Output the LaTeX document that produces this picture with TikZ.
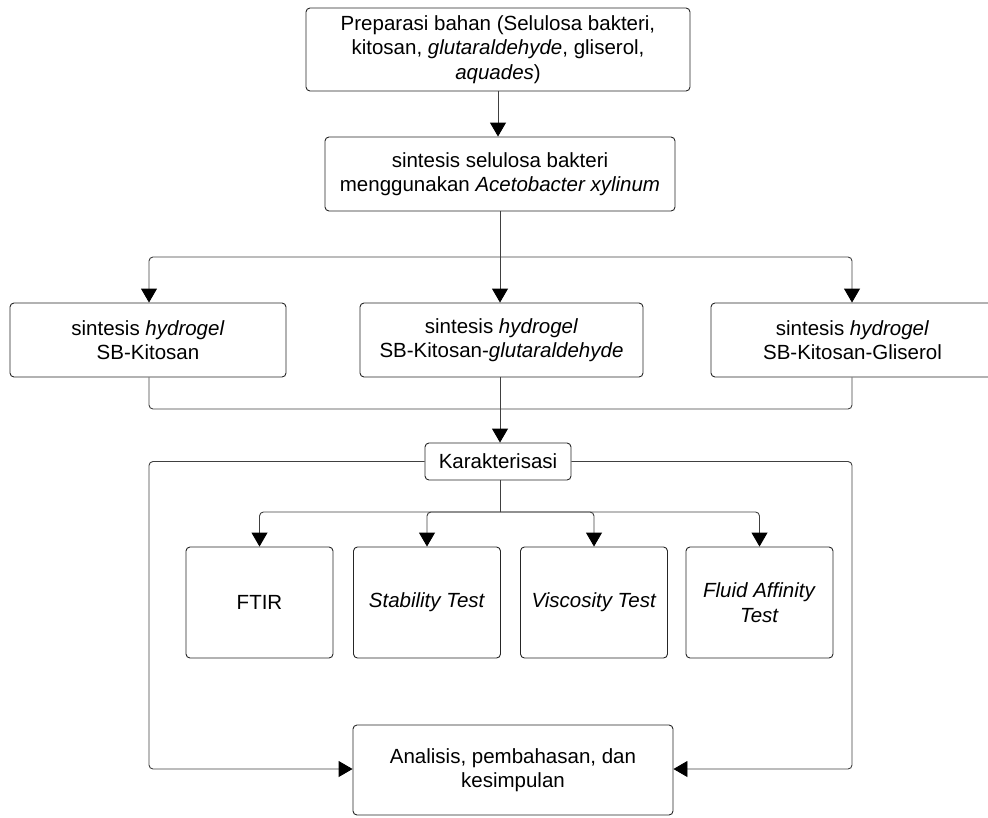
\documentclass[tikz,border=0pt]{standalone}
\usepackage{fontspec}
\setmainfont{Liberation Sans}
\usetikzlibrary{arrows.meta,calc}
\begin{document}
\begin{tikzpicture}[x=1pt,y=-1pt,
  box/.style={draw=black!85,line width=0.9pt,rounded corners=4pt,align=center,
    inner sep=0pt,font=\fontsize{20.5}{24.5}\selectfont},
  arr/.style={draw=black!75,line width=0.9pt,rounded corners=4pt,-{Triangle[width=16pt,length=14pt,color=black]}},
  ln/.style={draw=black!75,line width=0.9pt,rounded corners=4pt}]
\useasboundingbox (0,0) rectangle (988,817);
\node[box,minimum width=384pt,minimum height=83pt] (prep) at (498,49.5)
  {Preparasi bahan (Selulosa bakteri,\\kitosan, \textit{glutaraldehyde}, gliserol,\\\textit{aquades})};
\node[box,minimum width=350pt,minimum height=74pt] (sint) at (500,174)
  {sintesis selulosa bakteri\\menggunakan \textit{Acetobacter xylinum}};
\node[box,minimum width=276pt,minimum height=74pt] (h1) at (148,340)
  {sintesis \textit{hydrogel}\\SB-Kitosan};
\node[box,minimum width=283pt,minimum height=74pt] (h2) at (501.5,340)
  {sintesis \textit{hydrogel}\\SB-Kitosan-\textit{glutaraldehyde}};
\node[box,minimum width=300pt,minimum height=74pt] (h3) at (861,340)
  {};
\node[font=\fontsize{20.5}{24.5}\selectfont,align=center,inner sep=0pt] (h3t) at (852.5,340)
  {sintesis \textit{hydrogel}\\SB-Kitosan-Gliserol};
\node[box,minimum width=146pt,minimum height=37pt] (kar) at (498,461.5) {Karakterisasi};
\node[box,minimum width=147pt,minimum height=111pt] (ftir) at (259.5,602.5) {FTIR};
\node[box,minimum width=147pt,minimum height=111pt] (stab) at (427,602.5) {\textit{Stability Test}};
\node[box,minimum width=147pt,minimum height=111pt] (visc) at (594,602.5) {\textit{Viscosity Test}};
\node[box,minimum width=147pt,minimum height=111pt] (fluid) at (759.5,602.5) {\textit{Fluid Affinity}\\\textit{Test}};
\node[box,minimum width=320pt,minimum height=90pt] (anal) at (513,770)
  {Analisis, pembahasan, dan\\kesimpulan};
\coordinate (s1) at (500,257);
\coordinate (m1) at (500,409);
\coordinate (k1) at (500,512);
\coordinate (fL) at (149,769);
\coordinate (fR) at (852,769);
% top
\draw[arr] (prep.south -| 498,0) -- (sint.north -| 498,0);
\draw[ln] (sint.south -| s1) -- (s1);
\draw[arr] (s1) -| (h1.north -| 149,0);
\draw[arr] (s1) -| (h3.north -| 852,0);
\draw[arr] (s1) -- (h2.north -| s1);
% merge
\draw[ln] (h1.south -| 149,0) |- (m1);
\draw[ln] (h3.south -| 852,0) |- (m1);
\draw[ln] (h2.south -| m1) -- (m1);
\draw[arr] (m1) -- (kar.north -| m1);
% characterisation
\draw[ln] (kar.south -| k1) -- (k1);
\draw[arr] (k1) -| (ftir.north);
\draw[arr] (k1) -| (stab.north);
\draw[arr] (k1) -| (visc.north);
\draw[arr] (k1) -| (fluid.north);
% frame
\draw[arr] (kar.west) -| (fL) -- (anal.west |- fL);
\draw[arr] (kar.east) -| (fR) -- (anal.east |- fR);
\end{tikzpicture}
\end{document}
